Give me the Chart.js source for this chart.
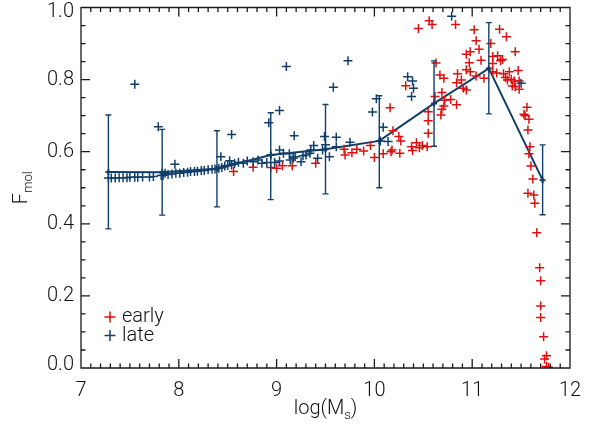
<!DOCTYPE html>
<html>
<head>
<meta charset="utf-8">
<script src="https://cdn.jsdelivr.net/npm/chart.js@4"></script>
<style>
  html, body { margin: 0; padding: 0; background: #fff; }
  #wrap { width: 590px; height: 426px; }
</style>
</head>
<body>
<div id="wrap"><canvas id="c" width="590" height="426"></canvas></div>
<script>
const BLUE = '#103f6b';
const RED = '#dd1010';
const FONT = 'Roboto';

// late-type galaxies (blue crosses)
const lateX = [7.28, 7.31, 7.35, 7.39, 7.43, 7.47, 7.50, 7.55, 7.58, 7.63, 7.70, 7.74,
  7.82, 7.84, 7.86, 7.89, 7.93, 7.97, 8.01, 8.05, 8.09, 8.12, 8.16, 8.19, 8.23, 8.26,
  8.30, 8.34, 8.37, 8.41, 8.44, 8.47, 8.50, 8.54, 8.57, 8.61, 8.66, 8.70, 8.76, 8.81,
  8.85, 8.90, 8.94, 8.98, 9.03, 9.07, 9.13, 9.14, 9.17, 9.19, 9.25, 9.27, 9.30, 9.34,
  9.35, 9.38, 9.42, 9.47, 9.50, 9.54, 9.61, 9.75, 10.06, 10.14,
  7.55, 7.79, 7.96, 8.43, 8.52, 8.54, 8.92, 9.03, 9.03, 9.10, 9.18, 9.49, 9.58, 9.61,
  9.73, 9.98, 10.02, 10.09, 10.34, 10.39, 10.40, 10.38, 10.79, 11.50];
const lateY = [0.527, 0.527, 0.527, 0.528, 0.528, 0.528, 0.529, 0.529, 0.529, 0.530, 0.530, 0.531,
  0.534, 0.535, 0.540, 0.537, 0.538, 0.540, 0.540, 0.542, 0.543, 0.545, 0.545, 0.546, 0.548, 0.548,
  0.550, 0.551, 0.552, 0.554, 0.556, 0.560, 0.562, 0.563, 0.567, 0.571, 0.568, 0.574, 0.572, 0.577,
  0.568, 0.570, 0.591, 0.570, 0.574, 0.596, 0.594, 0.577, 0.582, 0.586, 0.572, 0.589, 0.591, 0.596,
  0.605, 0.617, 0.582, 0.605, 0.619, 0.586, 0.614, 0.626, 0.630, 0.628,
  0.787, 0.669, 0.565, 0.586, 0.575, 0.648, 0.680, 0.714, 0.605, 0.836, 0.644, 0.642, 0.779, 0.640,
  0.852, 0.710, 0.747, 0.668, 0.808, 0.796, 0.776, 0.753, 0.976, 0.790];

// early-type galaxies (red crosses)
const earlyX = [8.56, 8.76, 8.94, 9.00, 9.06, 9.16, 9.40, 9.69, 9.70, 9.77, 9.82, 9.89,
  9.96, 10.00, 10.09, 10.16, 10.19, 10.17, 10.18, 10.25, 10.27, 10.26, 10.32, 10.38,
  10.43, 10.46, 10.49, 10.54, 10.39, 10.45, 10.56, 10.59, 10.83, 11.02, 11.28, 11.35,
  11.04, 11.19, 11.44, 10.98, 10.94, 11.07, 11.21, 11.26, 11.31, 10.97, 11.09, 11.21,
  11.29, 10.94, 10.98, 11.04, 11.12, 11.21, 11.25, 11.32, 11.38, 11.47, 11.34, 11.36,
  11.40, 11.43, 11.48, 11.41, 11.44, 11.48, 10.85, 10.84, 10.89, 10.91, 10.94, 10.69,
  10.67, 10.71, 10.62, 10.72, 10.78, 10.71, 10.84, 10.69, 10.55, 10.68, 10.55, 10.55,
  10.63, 11.56, 11.53, 11.54, 11.58, 11.57, 11.59, 11.58, 11.60, 11.62, 11.57, 11.63,
  11.64, 11.66, 11.69, 11.70, 11.70, 11.70, 11.73, 11.76, 11.74, 11.76, 11.78];
const earlyY = [0.545, 0.557, 0.556, 0.554, 0.561, 0.561, 0.568, 0.607, 0.591, 0.597, 0.607, 0.602,
  0.617, 0.584, 0.594, 0.722, 0.658, 0.600, 0.605, 0.642, 0.630, 0.596, 0.783, 0.614,
  0.625, 0.611, 0.617, 0.614, 0.603, 0.942, 0.963, 0.953, 0.953, 0.938, 0.940, 0.919,
  0.908, 0.900, 0.877, 0.877, 0.870, 0.884, 0.864, 0.866, 0.856, 0.847, 0.854, 0.845,
  0.852, 0.827, 0.822, 0.810, 0.804, 0.822, 0.818, 0.816, 0.822, 0.825, 0.806, 0.799,
  0.801, 0.796, 0.796, 0.782, 0.780, 0.773, 0.816, 0.791, 0.799, 0.776, 0.771, 0.764,
  0.813, 0.804, 0.753, 0.743, 0.745, 0.727, 0.730, 0.718, 0.711, 0.702, 0.686, 0.651,
  0.846, 0.723, 0.704, 0.700, 0.690, 0.660, 0.614, 0.594, 0.560, 0.524, 0.485, 0.480,
  0.457, 0.375, 0.278, 0.242, 0.172, 0.140, 0.087, 0.034, 0.025, 0.004, 0.002];

// binned mean with scatter
const binX = [7.28, 7.83, 8.39, 8.94, 9.50, 10.05, 10.61, 11.17, 11.72];
const binMean = [0.544, 0.543, 0.553, 0.591, 0.607, 0.630, 0.734, 0.831, 0.521];
const binLow = [0.386, 0.424, 0.447, 0.467, 0.483, 0.500, 0.615, 0.705, 0.425];
const binHigh = [0.702, 0.662, 0.658, 0.708, 0.731, 0.755, 0.852, 0.958, 0.619];

const xTicks = [7, 8, 9, 10, 11, 12];
const yTicks = [0, 0.2, 0.4, 0.6, 0.8, 1.0];
const legendLabels = ['early', 'late'];

const toPts = (xs, ys) => xs.map((v, i) => ({x: v, y: ys[i]}));

function drawCross(ctx, x, y, r, color) {
    ctx.strokeStyle = color;
    ctx.lineWidth = 1.5;
    ctx.beginPath();
    ctx.moveTo(x - r, y); ctx.lineTo(x + r, y);
    ctx.moveTo(x, y - r); ctx.lineTo(x, y + r);
    ctx.stroke();
}

// error bars, then the IDL style box with inward ticks on all sides
const overlay = {
    id: 'overlay',
    afterDatasetsDraw(chart) {
        const {ctx, scales: {x, y}} = chart;
        const a = chart.chartArea;
        ctx.save();
        ctx.setLineDash([]);
        ctx.globalAlpha = 1;
        ctx.strokeStyle = BLUE;
        ctx.lineWidth = 1.4;
        binX.forEach((v, i) => {
            const px = x.getPixelForValue(v);
            const t = y.getPixelForValue(binHigh[i]);
            const b = y.getPixelForValue(binLow[i]);
            ctx.beginPath();
            ctx.moveTo(px, t); ctx.lineTo(px, b);
            ctx.moveTo(px - 3, t); ctx.lineTo(px + 3, t);
            ctx.moveTo(px - 3, b); ctx.lineTo(px + 3, b);
            ctx.stroke();
        });

        const L = x.getPixelForValue(7), R = x.getPixelForValue(12);
        const T = y.getPixelForValue(1), B = y.getPixelForValue(0);
        ctx.strokeStyle = '#1a1a1a';
        ctx.lineWidth = 1.3;
        ctx.beginPath();
        ctx.moveTo(L, T); ctx.lineTo(R, T); ctx.lineTo(R, B); ctx.lineTo(L, B); ctx.closePath();
        for (let i = 0; i <= 50; i++) {
            const px = x.getPixelForValue(7 + i / 10);
            const len = i % 10 === 0 ? 9 : 4.5;
            ctx.moveTo(px, B); ctx.lineTo(px, B - len);
            ctx.moveTo(px, T); ctx.lineTo(px, T + len);
        }
        for (let i = 0; i <= 20; i++) {
            const py = y.getPixelForValue(i * 0.05);
            const len = i % 4 === 0 ? 9 : 4.5;
            ctx.moveTo(L, py); ctx.lineTo(L + len, py);
            ctx.moveTo(R, py); ctx.lineTo(R - len, py);
        }
        ctx.stroke();
        ctx.restore();
    },
    afterDraw(chart) {
        const {ctx} = chart;
        const a = chart.chartArea;
        ctx.save();
        // legend
        const colors = [RED, BLUE];
        ctx.fillStyle = '#111';
        ctx.font = `300 20px "${FONT}"`;
        ctx.textBaseline = 'middle';
        legendLabels.forEach((lab, i) => {
            const ly = 317 + i * 18.5;
            drawCross(ctx, 110, ly, 5.5, colors[i]);
            ctx.fillText(lab, 122, ly);
        });

        // x title: log(M_s)
        ctx.textBaseline = 'alphabetic';
        const big = `300 20px "${FONT}"`, small = `300 13px "${FONT}"`;
        ctx.font = big;
        const w1 = ctx.measureText('log(M').width, w3 = ctx.measureText(')').width;
        ctx.font = small;
        const w2 = ctx.measureText('s').width;
        const tx = (a.left + a.right) / 2 - (w1 + w2 + w3) / 2;
        const ty = 414;
        ctx.font = big; ctx.fillText('log(M', tx, ty);
        ctx.font = small; ctx.fillText('s', tx + w1, ty + 5);
        ctx.font = big; ctx.fillText(')', tx + w1 + w2, ty);

        // y title: F_mol
        ctx.translate(27, (a.top + a.bottom) / 2);
        ctx.rotate(-Math.PI / 2);
        ctx.font = big;
        const f1 = ctx.measureText('F').width;
        ctx.font = small;
        const f2 = ctx.measureText('mol').width;
        const sx = -(f1 + f2) / 2;
        ctx.font = big; ctx.fillText('F', sx, 0);
        ctx.font = small; ctx.fillText('mol', sx + f1, 5);
        ctx.restore();
    }
};

const tickFont = {family: FONT, size: 20, weight: 300};

// nudge the end labels of the y axis inward, as in the original
function nudgeYLabels(s) {
    if (s._nudged) return;
    s._nudged = true;
    const orig = s._computeLabelItems.bind(s);
    s._computeLabelItems = (ca) => {
        const items = orig(ca);
        items.forEach(it => {
            if (it.label === '0.0') it.options.translation[1] -= 3;
            if (it.label === '1.0') it.options.translation[1] += 4.5;
        });
        return items;
    };
}

new Chart(document.getElementById('c'), {
    type: 'scatter',
    data: {
        datasets: [
            {
                label: 'late', data: toPts(lateX, lateY),
                pointStyle: 'cross', radius: 4.5, borderColor: BLUE, borderWidth: 1.5
            },
            {
                label: 'early', data: toPts(earlyX, earlyY),
                pointStyle: 'cross', radius: 4.5, borderColor: RED, borderWidth: 1.5
            },
            {
                type: 'line', label: 'mean', data: toPts(binX, binMean),
                borderColor: BLUE, borderWidth: 2, pointStyle: 'cross', radius: 3,
                pointBorderColor: BLUE, tension: 0, fill: false
            }
        ]
    },
    options: {
        responsive: false,
        animation: false,
        devicePixelRatio: 1,
        layout: {padding: {left: 0, top: 7.5, right: 20, bottom: 0}},
        plugins: {legend: {display: false}, tooltip: {enabled: false}},
        scales: {
            x: {
                type: 'linear', min: 7, max: 12,
                afterBuildTicks: s => { s.ticks = xTicks.map(v => ({value: v})); },
                grid: {display: false, drawTicks: false},
                border: {display: false},
                ticks: {font: tickFont, color: '#111', padding: 11, maxRotation: 0},
                afterFit: s => { s.height = 58; s.paddingLeft = 0; s.paddingRight = 0; }
            },
            y: {
                type: 'linear', min: 0, max: 1,
                afterBuildTicks: s => { s.ticks = yTicks.map(v => ({value: v})); },
                grid: {display: false, drawTicks: false},
                border: {display: false},
                ticks: {font: tickFont, color: '#111', padding: 7, callback: v => v.toFixed(1)},
                afterFit: s => { s.width = 81; s.paddingTop = 0; s.paddingBottom = 0; nudgeYLabels(s); }
            }
        }
    },
    plugins: [overlay]
});
</script>
</body>
</html>
